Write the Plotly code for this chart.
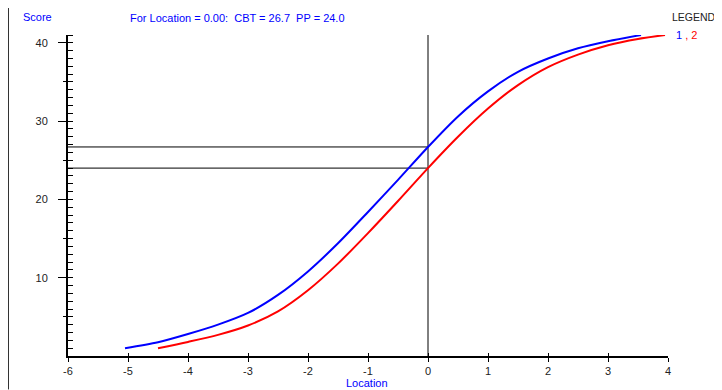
import plotly.graph_objects as go

# ---- data ----
loc_blue = [-5.05, -4.5, -4.0, -3.5, -3.0, -2.5, -2.0, -1.5, -1.0, -0.5, 0.0, 0.5, 1.0, 1.5, 2.0, 2.5, 3.0, 3.55]
score_blue = [1.0, 1.75, 2.8, 4.0, 5.5, 7.8, 10.8, 14.4, 18.4, 22.5, 26.7, 30.6, 33.8, 36.3, 38.0, 39.3, 40.2, 41.0]

loc_red = [-4.5, -4.0, -3.5, -3.0, -2.5, -2.0, -1.5, -1.0, -0.5, 0.0, 0.5, 1.0, 1.5, 2.0, 2.5, 3.0, 3.5, 3.95]
score_red = [1.0, 1.8, 2.7, 3.9, 5.7, 8.4, 11.8, 15.7, 19.8, 24.0, 28.0, 31.6, 34.6, 36.9, 38.5, 39.7, 40.5, 41.0]

sel_location = 0.0
cbt_value = 26.7
pp_value = 24.0

x_ticks = [-6, -5, -4, -3, -2, -1, 0, 1, 2, 3, 4]
y_ticks = [10, 20, 30, 40]
y_half_ticks = [5, 15, 25, 35]

X_MIN, X_MAX = -6, 4
Y_MIN, Y_MAX = 0, 41

FONT = "Liberation Sans, Arial, sans-serif"
BLUE = "#0000FF"
RED = "#FF0000"

# page geometry (the page body has an 8px default margin)
OFF = 8
PAGE_W, PAGE_H = 722, 390
W, H = PAGE_W - OFF, PAGE_H - OFF
PLOT_LEFT, PLOT_RIGHT, PLOT_TOP, PLOT_BOTTOM = 68, 668, 35, 356.5  # page px
L = PLOT_LEFT - OFF
T = PLOT_TOP - OFF
R = W - (PLOT_RIGHT - OFF)
B = H - (PLOT_BOTTOM - OFF)
pw, ph = W - L - R, H - T - B


def px(xp):
    return (xp - PLOT_LEFT) / pw


def py(yp):
    return (PLOT_BOTTOM - yp) / ph


fig = go.Figure()

# crosshair lines
fig.add_trace(go.Scatter(x=[sel_location, sel_location], y=[Y_MIN, Y_MAX], mode="lines",
                         line=dict(color="black", width=1), hoverinfo="skip", showlegend=False))
fig.add_trace(go.Scatter(x=[X_MIN, sel_location], y=[cbt_value, cbt_value], mode="lines",
                         line=dict(color="black", width=1), hoverinfo="skip", showlegend=False))
fig.add_trace(go.Scatter(x=[X_MIN, sel_location], y=[pp_value, pp_value], mode="lines",
                         line=dict(color="black", width=1), hoverinfo="skip", showlegend=False))

fig.add_trace(go.Scatter(x=loc_red, y=score_red, mode="lines", name="2",
                         line=dict(color=RED, width=2, shape="spline", smoothing=0.8),
                         showlegend=False))
fig.add_trace(go.Scatter(x=loc_blue, y=score_blue, mode="lines", name="1",
                         line=dict(color=BLUE, width=2, shape="spline", smoothing=0.8),
                         showlegend=False))

fig.update_layout(
    width=W, height=H,
    margin=dict(l=L, r=R, t=T, b=B, pad=0, autoexpand=False),
    paper_bgcolor="white", plot_bgcolor="white",
    font=dict(family=FONT, size=11, color="#222222"),
    showlegend=False,
    xaxis=dict(range=[X_MIN, X_MAX], tickvals=x_ticks, ticktext=[str(v) for v in x_ticks],
               ticks="outside", ticklen=4, tickwidth=1, tickcolor="black",
               showline=True, linewidth=2, linecolor="black", showgrid=False, zeroline=False,
               tickfont=dict(family=FONT, size=11, color="#222222")),
    xaxis2=dict(range=[X_MIN, X_MAX], overlaying="x", matches="x", anchor="y", side="bottom",
                tickvals=x_ticks, ticks="inside", ticklen=3, tickwidth=1, tickcolor="black",
                showticklabels=False, showline=False, showgrid=False, zeroline=False),
    yaxis=dict(range=[Y_MIN, Y_MAX], tickvals=y_ticks, ticktext=[str(v) for v in y_ticks],
               ticks="outside", ticklen=8, tickwidth=1, tickcolor="black",
               showline=True, linewidth=2, linecolor="black", showgrid=False, zeroline=False,
               ticklabelstandoff=8,
               minor=dict(ticks="inside", dtick=1, tick0=0, ticklen=5, tickwidth=1,
                          tickcolor="black", showgrid=False),
               tickfont=dict(family=FONT, size=11, color="#222222")),
    yaxis2=dict(range=[Y_MIN, Y_MAX], overlaying="y", matches="y", anchor="x", side="left",
                tickvals=y_half_ticks, ticks="outside", ticklen=4, tickwidth=1, tickcolor="black",
                showticklabels=False, showline=False, showgrid=False, zeroline=False),
)

# invisible trace to activate overlay axes
fig.add_trace(go.Scatter(x=[X_MIN], y=[Y_MIN], xaxis="x2", yaxis="y2", mode="markers",
                         marker=dict(opacity=0), hoverinfo="skip", showlegend=False))

# left border line of the window
fig.add_shape(type="line", xref="paper", yref="paper", x0=px(8.5), x1=px(8.5),
              y0=py(PAGE_H), y1=py(OFF), line=dict(color="#333333", width=1))

annos = [
    dict(text="Score", x=px(21), y=py(17), xanchor="left", font=dict(color=BLUE)),
    dict(text=f"For Location = {sel_location:.2f}:  CBT = {cbt_value:.1f}  PP = {pp_value:.1f}",
         x=px(128), y=py(18), xanchor="left", font=dict(color=BLUE)),
    dict(text="LEGEND", x=px(670), y=py(17), xanchor="left",
         font=dict(color="#222222", size=10.5)),
    dict(text=f"<span style='color:{BLUE}'>1</span><span style='color:{RED}'> , 2</span>",
         x=px(674), y=py(35), xanchor="left"),
    dict(text="Location", x=px(367), y=py(384), xanchor="center", font=dict(color=BLUE)),
]
for a in annos:
    f = dict(family=FONT, size=11)
    f.update(a.pop("font", {}))
    fig.add_annotation(xref="paper", yref="paper", yanchor="middle", showarrow=False,
                       font=f, **a)

fig.write_html("out.html")
